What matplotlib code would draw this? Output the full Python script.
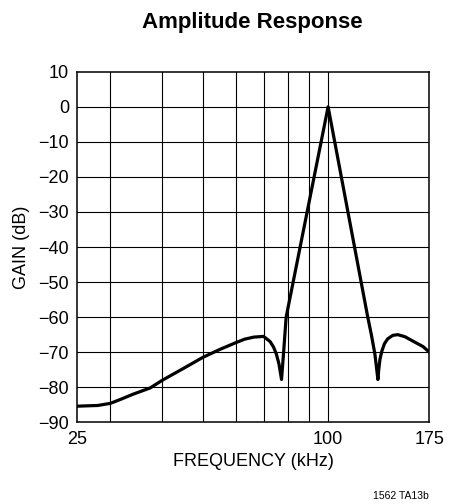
import matplotlib
matplotlib.use("Agg")
import matplotlib.pyplot as plt

# frequency (kHz) and gain (dB)
freq_khz = [25, 28, 30, 31.7, 34, 37.4, 40, 45, 50, 55, 60, 63, 66.3, 70,
            72.6, 74, 75.1, 76.2, 77.3, 78.2, 79.3, 100, 124.5,
            127, 129.5, 131.7, 132.3, 133.2, 134.5, 136.5, 139, 143, 147,
            153, 159, 169, 175]
gain_db = [-85.4, -85.2, -84.6, -83.5, -82.0, -80.2, -78.0, -74.6, -71.5, -69.2,
           -67.3, -66.3, -65.7, -65.5,
           -67.0, -68.6, -70.5, -73.3, -77.8, -70.0, -60.0, 0.0, -60.0,
           -65.0, -70.5, -77.8, -75.0, -72.0, -69.8, -67.6, -66.2, -65.2, -65.0,
           -65.6, -66.7, -68.4, -70.0]

grid_freqs = [30, 40, 50, 60, 70, 80, 90, 100]
xtick_vals = [25, 100, 175]
yticks = list(range(-90, 11, 10))

plt.rcParams["font.family"] = ["Liberation Sans", "DejaVu Sans"]

fig = plt.figure(figsize=(4.51, 5.04), dpi=100)
ax = fig.add_axes([0.1714, 0.1621, 0.952 - 0.1714, 0.8577 - 0.1621])

ax.set_xscale("log")
ax.set_xlim(25, 175)
ax.set_ylim(-90, 10)

# grid lines
for f in grid_freqs:
    ax.axvline(f, color="black", lw=0.8, zorder=1)
for y in yticks[1:-1]:
    ax.axhline(y, color="black", lw=0.8, zorder=1)

ax.plot(freq_khz, gain_db, color="black", lw=2.3, solid_joinstyle="round", zorder=3)

ax.set_xticks(xtick_vals)
ax.set_xticklabels([str(v) for v in xtick_vals])
ax.xaxis.set_minor_locator(matplotlib.ticker.NullLocator())
ax.set_yticks(yticks)
ax.set_yticklabels([str(v).replace("-", "\u2212") for v in yticks])
ax.tick_params(length=0, labelsize=13, pad=6)
for s in ax.spines.values():
    s.set_linewidth(1.1)

ax.set_xlabel("FREQUENCY (kHz)", fontsize=13, labelpad=4)
ax.set_ylabel("GAIN (dB)", fontsize=13, labelpad=6)

fig.text(0.56, 0.955, "Amplitude Response", ha="center", va="center",
         fontsize=16, fontweight="bold")
fig.text(0.95, 0.016, "1562 TA13b", ha="right", va="center", fontsize=7.5)

fig.savefig("out.png", dpi=100)
